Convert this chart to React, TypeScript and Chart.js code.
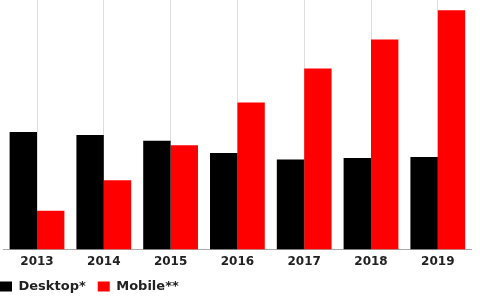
import React, { useEffect, useRef } from "react";
import { Chart, registerables } from "chart.js";

Chart.register(...registerables);

const years = ["2013", "2014", "2015", "2016", "2017", "2018", "2019"];
const desktop = [117.3, 114.3, 108.7, 96.3, 90, 91.3, 92.3];
const mobile = [38.7, 69.3, 104, 146.7, 180.7, 209.7, 238.7];

export default function App() {
  const ref = useRef<HTMLCanvasElement | null>(null);
  useEffect(() => {
    if (!ref.current) return;
    const chart = new Chart(ref.current, {
      type: "bar",
      data: {
        labels: years,
        datasets: [
          { label: "Desktop*", data: desktop, backgroundColor: "#000000", categoryPercentage: 0.82, barPercentage: 1.0 },
          { label: "Mobile**", data: mobile, backgroundColor: "#ff0000", categoryPercentage: 0.82, barPercentage: 1.0 },
        ],
      },
      options: {
        responsive: false,
        animation: false,
        layout: { padding: { left: 0, right: 8.8, top: 0, bottom: 0 } },
        plugins: {
          legend: {
            position: "bottom",
            align: "start",
            labels: {
              boxWidth: 12,
              boxHeight: 10,
              padding: 12,
              color: "#222",
              font: { family: "DejaVu Sans", weight: "bold", size: 13 },
            },
          },
          tooltip: { enabled: false },
        },
        scales: {
          x: {
            grid: { display: true, offset: false, color: "#dddddd", drawTicks: false },
            border: { display: true, color: "#aaaaaa" },
            ticks: {
              color: "#222",
              padding: 5,
              font: { family: "DejaVu Sans", weight: "bold", size: 12 },
            },
            afterFit: (s: any) => {
              s.height = s.height - 6;
            },
          },
          y: {
            display: true,
            min: 0,
            max: 249,
            ticks: { display: false },
            grid: { display: false },
            border: { display: false },
            afterFit: (s: any) => {
              s.width = 15.6;
            },
          },
        },
      },
    });
    return () => chart.destroy();
  }, []);
  return (
    <div style={{ position: "absolute", left: -12, top: 0, width: 492, height: 303, background: "#fff" }}>
      <canvas ref={ref} width={492} height={303} />
    </div>
  );
}
